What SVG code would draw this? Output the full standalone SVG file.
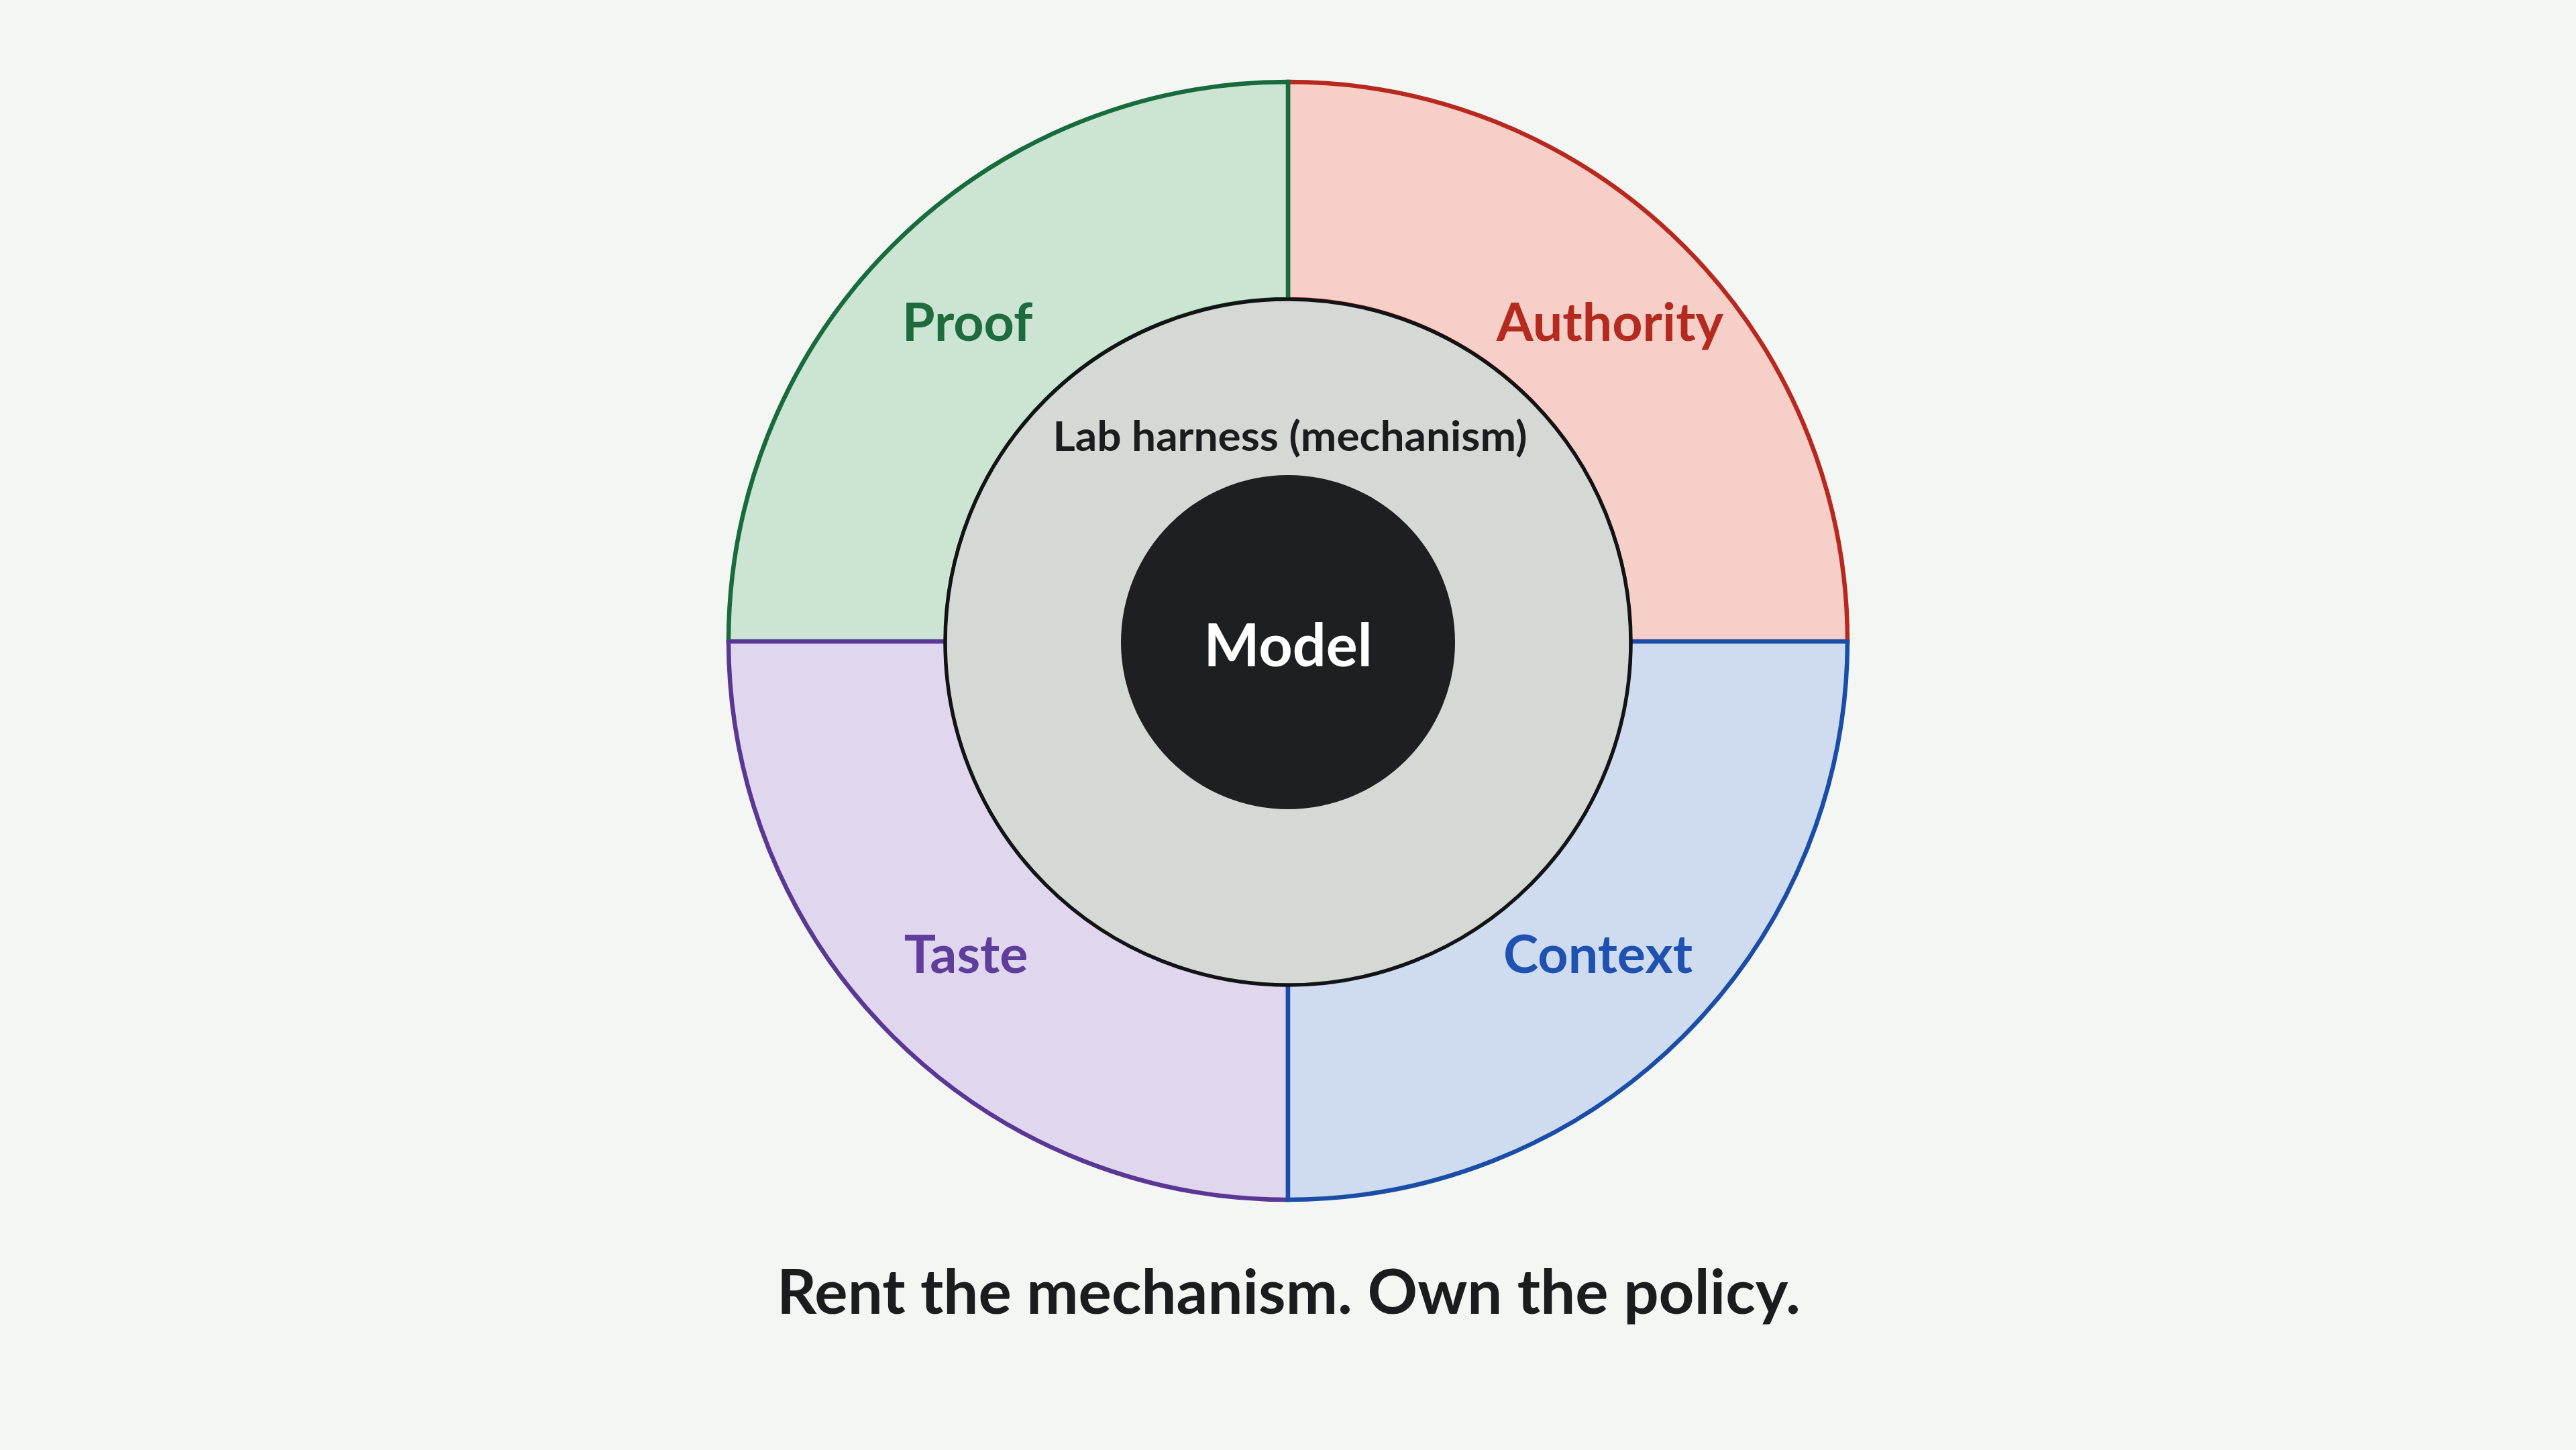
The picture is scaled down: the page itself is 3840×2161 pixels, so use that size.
<svg xmlns="http://www.w3.org/2000/svg" width="3840" height="2161" viewBox="0 0 3840 2161">
  <style>
    .lbl { font-family: Lato, "Noto Sans", "Liberation Sans", sans-serif; font-weight: 700; font-size: 79px; text-anchor: middle; }
    .sector { stroke-width: 6.5; stroke-linejoin: miter; }
    .harness { font-family: Lato, "Noto Sans", "Liberation Sans", sans-serif; font-weight: 700; font-size: 62px; fill: #1b1c1e; text-anchor: middle; }
    .model { font-family: Lato, "Noto Sans", "Liberation Sans", sans-serif; font-weight: 700; font-size: 88px; fill: #ffffff; text-anchor: middle; }
    .tagline { font-family: Lato, "Noto Sans", "Liberation Sans", sans-serif; font-weight: 700; font-size: 92px; fill: #1b1c1e; text-anchor: middle; }
  </style>
  <rect x="0" y="0" width="3840" height="2161" fill="#f3f6f3"/>

  <g id="authority">
    <path class="sector" d="M1920,122 A834,834 0 0 1 2754,956 L2430,956 A510,510 0 0 0 1920,446 Z" fill="#f5cfc8" stroke="#b8281e"/>
    <text class="lbl" x="2400" y="508" fill="#b52a1f">Authority</text>
  </g>
  <g id="proof">
    <path class="sector" d="M1086,956 A834,834 0 0 1 1920,122 L1920,446 A510,510 0 0 0 1410,956 Z" fill="#cce5d3" stroke="#186b3c"/>
    <text class="lbl" x="1442" y="508" fill="#1e6b3e">Proof</text>
  </g>
  <g id="taste">
    <path class="sector" d="M1920,1788 A834,834 0 0 1 1086,956 L1410,956 A510,510 0 0 0 1920,1466 Z" fill="#e0d7ee" stroke="#5a3794"/>
    <text class="lbl" x="1440" y="1450" fill="#5e3e9a">Taste</text>
  </g>
  <g id="context">
    <path class="sector" d="M2754,956 A834,834 0 0 1 1920,1788 L1920,1466 A510,510 0 0 0 2430,956 Z" fill="#cfdcf0" stroke="#1a4da8"/>
    <text class="lbl" x="2382" y="1450" fill="#1f52b0">Context</text>
  </g>

  <g id="lab-harness">
    <circle cx="1920" cy="957" r="511" fill="#d5d9d6" stroke="#111314" stroke-width="5.5"/>
    <text class="harness" x="1923" y="672" textLength="707" lengthAdjust="spacingAndGlyphs">Lab harness (mechanism)</text>
  </g>
  <g id="model">
    <circle cx="1920" cy="957" r="249" fill="#1e1f21"/>
    <text class="model" x="1920" y="993">Model</text>
  </g>

  <g id="connectors"></g>

  <text class="tagline" x="1921" y="1958" textLength="1526" lengthAdjust="spacingAndGlyphs">Rent the mechanism. Own the policy.</text>
</svg>
